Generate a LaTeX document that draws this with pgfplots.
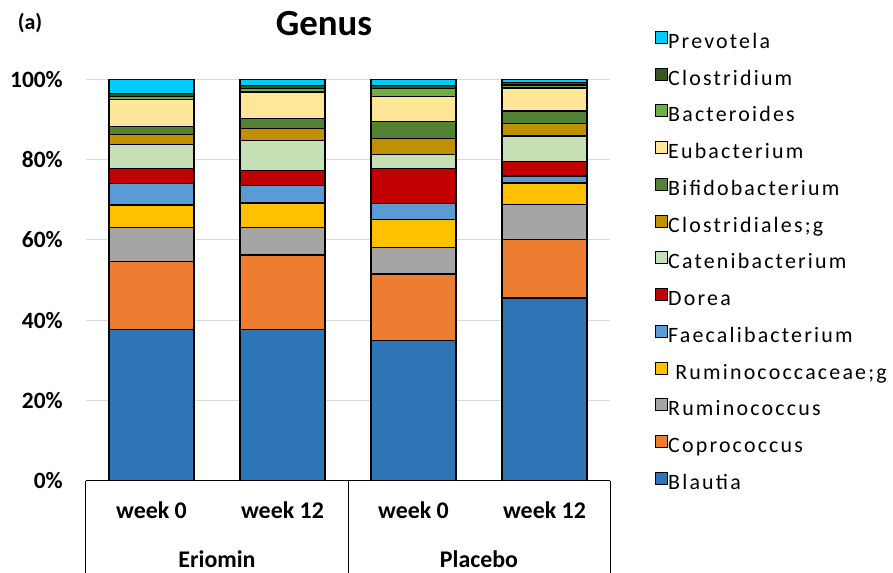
\documentclass[border=0pt]{standalone}
\usepackage{fontspec}
\setmainfont{Carlito}
\newfontfamily\legfont[LetterSpace=10]{Carlito}
\usepackage{pgfplots}
\usepackage{pgfplotstable}
\pgfplotsset{compat=1.18}

\definecolor{cBlautia}{HTML}{2E75B6}
\definecolor{cCopro}{HTML}{ED7D31}
\definecolor{cRumino}{HTML}{A5A5A5}
\definecolor{cRuminog}{HTML}{FFC000}
\definecolor{cFaecali}{HTML}{5B9BD5}
\definecolor{cDorea}{HTML}{C00000}
\definecolor{cCateni}{HTML}{C5E0B4}
\definecolor{cClostg}{HTML}{BF9000}
\definecolor{cBifido}{HTML}{548235}
\definecolor{cEubac}{HTML}{FFE699}
\definecolor{cBactero}{HTML}{70AD47}
\definecolor{cClostr}{HTML}{375623}
\definecolor{cPrevo}{HTML}{00CCFF}

% relative abundance (%), bars: Eriomin wk0, wk12, Placebo wk0, wk12
\pgfplotstableread{
x Blautia Copro Rumino Ruminog Faecali Dorea Cateni Clostg Bifido Eubac Bactero Clostr Prevo
0 37.6 17.0 8.5 5.6 5.4 3.7 6.0 2.5 2.0 6.7 0.8 0.7 3.5
1 37.6 18.6 6.9 6.1 4.4 3.6 7.6 2.9 2.5 6.6 0.9 0.8 1.5
2 35.0 16.5 6.6 7.0 4.0 8.7 3.5 3.9 4.2 6.4 1.9 0.8 1.5
3 45.5 14.6 8.7 5.4 1.7 3.6 6.4 3.1 3.1 5.7 0.8 0.6 0.8
}\genus

\begin{document}
\begin{tikzpicture}
\begin{axis}[
    name=ax,
    scale only axis,
    width=524bp, height=401.4bp,
    ybar stacked,
    bar width=85bp,
    xmin=-0.5, xmax=3.5,
    ymin=0, ymax=100,
    clip=false,
    axis line style={draw=none},
    major tick length=0pt,
    xtick={0,1,2,3},
    xticklabels={week 0,week 12,week 0,week 12},
    xticklabel style={font=\bfseries\fontsize{24}{24}\selectfont, anchor=base, inner sep=0pt, yshift=-37.3bp},
    ytick={0,20,40,60,80,100},
    yticklabels={0\%,20\%,40\%,60\%,80\%,100\%},
    yticklabel style={font=\bfseries\fontsize{23.5}{23.5}\selectfont, anchor=east, inner sep=0pt, xshift=-23bp},
    ymajorgrids,
    grid style={draw=black!15, line width=1.2bp},
    every axis plot/.append style={draw=black, line width=1.3bp},
    reverse legend,
    legend cell align=left,
    legend image code/.code={\draw[#1, line width=1bp] (0bp,0bp) rectangle (12bp,12bp);},
    legend style={draw=none, fill=none, at={(1.0859,1.136)}, anchor=north west,
        inner sep=0pt, row sep=0pt,
        font=\legfont\fontsize{22}{22}\selectfont,
        nodes={inner sep=0pt, text height=15bp, text depth=5bp, minimum height=36.75bp},
        /tikz/every even column/.append style={column sep=12bp}},
]
\addplot[fill=cBlautia] table[x=x,y=Blautia] {\genus};
\addplot[fill=cCopro] table[x=x,y=Copro] {\genus};
\addplot[fill=cRumino] table[x=x,y=Rumino] {\genus};
\addplot[fill=cRuminog] table[x=x,y=Ruminog] {\genus};
\addplot[fill=cFaecali] table[x=x,y=Faecali] {\genus};
\addplot[fill=cDorea] table[x=x,y=Dorea] {\genus};
\addplot[fill=cCateni] table[x=x,y=Cateni] {\genus};
\addplot[fill=cClostg] table[x=x,y=Clostg] {\genus};
\addplot[fill=cBifido] table[x=x,y=Bifido] {\genus};
\addplot[fill=cEubac] table[x=x,y=Eubac] {\genus};
\addplot[fill=cBactero] table[x=x,y=Bactero] {\genus};
\addplot[fill=cClostr] table[x=x,y=Clostr] {\genus};
\addplot[fill=cPrevo] table[x=x,y=Prevo] {\genus};
\legend{Blautia,Coprococcus,Ruminococcus,{\ Ruminococcaceae;g},Faecalibacterium,Dorea,Catenibacterium,Clostridiales;g,Bifidobacterium,Eubacterium,Bacteroides,Clostridium,Prevotela}

\draw[black, line width=1bp] (axis cs:-0.5,0) -- (axis cs:3.5,0);
\draw[black, line width=1bp] (axis cs:-0.5,0) -- ([yshift=-92.3bp]axis cs:-0.5,0);
\draw[black, line width=1bp] (axis cs:1.5,0) -- ([yshift=-92.3bp]axis cs:1.5,0);
\draw[black, line width=1bp] (axis cs:3.5,0) -- ([yshift=-92.3bp]axis cs:3.5,0);
\node[font=\bfseries\fontsize{24}{24}\selectfont, anchor=base, inner sep=0pt] at ([yshift=-86.3bp]axis cs:0.5,0) {Eriomin};
\node[font=\bfseries\fontsize{24}{24}\selectfont, anchor=base, inner sep=0pt] at ([yshift=-86.3bp]axis cs:2.5,0) {Placebo};
\node[font=\bfseries\fontsize{37}{37}\selectfont, inner sep=0pt] at ([shift={(238bp,456.7bp)}]axis description cs:0,0) {Genus};
\node[font=\bfseries\fontsize{22}{22}\selectfont, inner sep=0pt] at ([shift={(-56bp,458bp)}]axis description cs:0,0) {(a)};
\end{axis}
\pgfresetboundingbox
\path[use as bounding box] ([shift={(-86bp,-92.3bp)}]ax.south west) rectangle ([shift={(807bp,480.7bp)}]ax.south west);
\end{tikzpicture}
\end{document}
